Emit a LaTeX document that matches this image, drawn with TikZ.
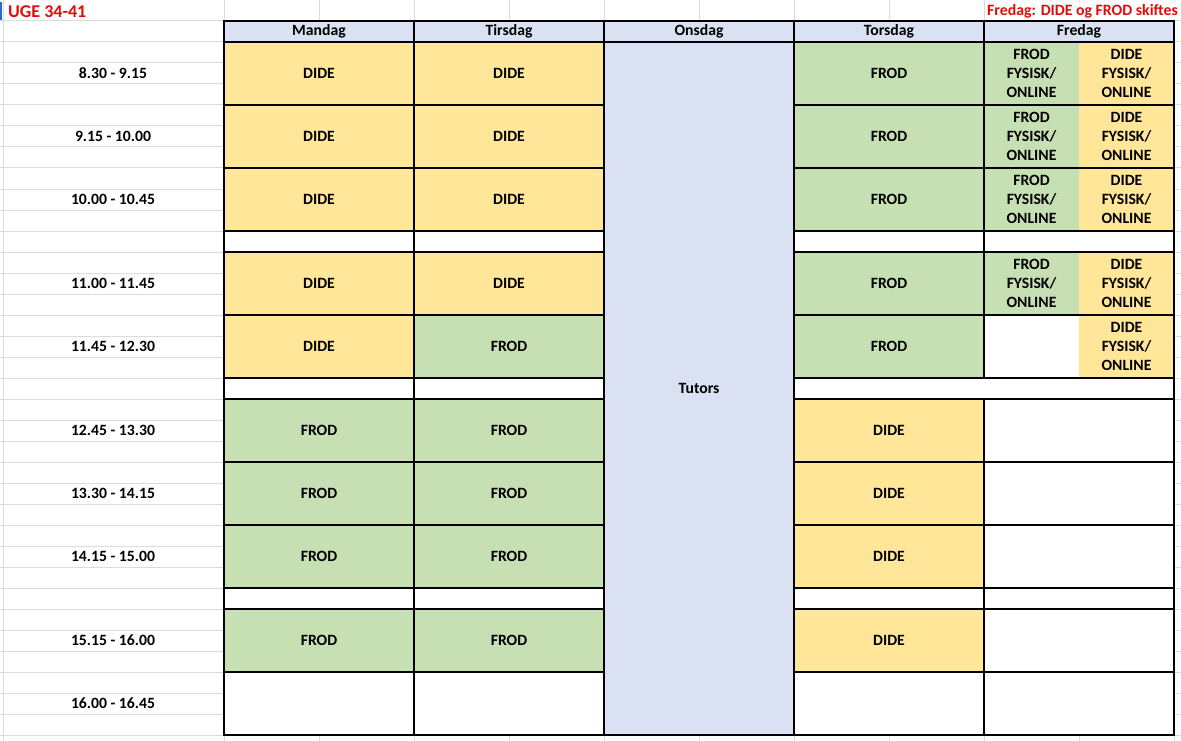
\documentclass[tikz,border=0pt]{standalone}
\usepackage{fontspec}
\setmainfont{Carlito}
\usetikzlibrary{positioning,backgrounds}

\definecolor{didecol}{RGB}{255,230,153}
\definecolor{frodcol}{RGB}{198,224,180}
\definecolor{daycol}{RGB}{217,225,242}
\definecolor{gridcol}{RGB}{220,220,220}
\definecolor{notecol}{RGB}{226,12,12}
\definecolor{cursorcol}{RGB}{40,110,200}

\begin{document}
\begin{tikzpicture}[x=1pt,y=-1pt,node distance=0pt]
  \tikzstyle{cell}=[rectangle,draw=black,line width=1.5pt,inner sep=0pt,outer sep=0pt,minimum width=190pt,minimum height=63pt,align=center,font=\fontsize{15.7}{19}\selectfont\bfseries]
  \tikzstyle{dide}=[cell,fill=didecol]
  \tikzstyle{frod}=[cell,fill=frodcol]
  \tikzstyle{empty}=[cell,fill=white]
  \tikzstyle{gap}=[empty,minimum height=21pt]
  \tikzstyle{day}=[cell,fill=daycol,minimum height=21pt]
  \tikzstyle{half}=[cell,draw=none,minimum width=95pt]
  \tikzstyle{frodhalf}=[half,fill=frodcol]
  \tikzstyle{didehalf}=[half,fill=didecol]
  \tikzstyle{nohalf}=[half,fill=white]
  \tikzstyle{frame}=[draw=black,line width=1.5pt]
  \tikzstyle{time}=[inner sep=0pt,font=\fontsize{15.7}{19}\selectfont\bfseries]
  \tikzstyle{note}=[inner sep=2pt,fill=white,text=notecol,font=\fontsize{15.8}{19}\selectfont\bfseries]

  \useasboundingbox (0,0) rectangle (1181,741);

  \begin{scope}
    % header row
    \node [day,anchor=north west] (mon) at (224,21) {Mandag};
    \node [day,right=of mon] (tue) {Tirsdag};
    \node [day,right=of tue] (wed) {Onsdag};
    \node [day,right=of wed] (thu) {Torsdag};
    \node [day,right=of thu] (fri) {Fredag};

    % Mandag
    \node [dide,below=of mon] (mon1) {DIDE};
    \node [dide,below=of mon1] (mon2) {DIDE};
    \node [dide,below=of mon2] (mon3) {DIDE};
    \node [gap,below=of mon3] (mongap1) {};
    \node [dide,below=of mongap1] (mon4) {DIDE};
    \node [dide,below=of mon4] (mon5) {DIDE};
    \node [gap,below=of mon5] (mongap2) {};
    \node [frod,below=of mongap2] (mon6) {FROD};
    \node [frod,below=of mon6] (mon7) {FROD};
    \node [frod,below=of mon7] (mon8) {FROD};
    \node [gap,below=of mon8] (mongap3) {};
    \node [frod,below=of mongap3] (mon9) {FROD};
    \node [empty,below=of mon9] (mon10) {};

    % Tirsdag
    \node [dide,below=of tue] (tue1) {DIDE};
    \node [dide,below=of tue1] (tue2) {DIDE};
    \node [dide,below=of tue2] (tue3) {DIDE};
    \node [gap,below=of tue3] (tuegap1) {};
    \node [dide,below=of tuegap1] (tue4) {DIDE};
    \node [frod,below=of tue4] (tue5) {FROD};
    \node [gap,below=of tue5] (tuegap2) {};
    \node [frod,below=of tuegap2] (tue6) {FROD};
    \node [frod,below=of tue6] (tue7) {FROD};
    \node [frod,below=of tue7] (tue8) {FROD};
    \node [gap,below=of tue8] (tuegap3) {};
    \node [frod,below=of tuegap3] (tue9) {FROD};
    \node [empty,below=of tue9] (tue10) {};

    % Onsdag
    \node [day,minimum height=693pt,below=of wed] (tutors) {Tutors};

    % Torsdag
    \node [frod,below=of thu] (thu1) {FROD};
    \node [frod,below=of thu1] (thu2) {FROD};
    \node [frod,below=of thu2] (thu3) {FROD};
    \node [gap,below=of thu3] (thugap1) {};
    \node [frod,below=of thugap1] (thu4) {FROD};
    \node [frod,below=of thu4] (thu5) {FROD};
    \node [gap,minimum width=380pt,anchor=north west] (thugap2) at (thu5.south west) {};
    \node [dide,below=21pt of thu5] (thu6) {DIDE};
    \node [dide,below=of thu6] (thu7) {DIDE};
    \node [dide,below=of thu7] (thu8) {DIDE};
    \node [gap,below=of thu8] (thugap3) {};
    \node [dide,below=of thugap3] (thu9) {DIDE};
    \node [empty,below=of thu9] (thu10) {};

    % Fredag
    \node [frodhalf,anchor=north west] (fri1a) at (fri.south west) {FROD\\FYSISK/\\ONLINE};
    \node [didehalf,right=of fri1a] (fri1b) {DIDE\\FYSISK/\\ONLINE};
    \node [frodhalf,below=of fri1a] (fri2a) {FROD\\FYSISK/\\ONLINE};
    \node [didehalf,right=of fri2a] (fri2b) {DIDE\\FYSISK/\\ONLINE};
    \node [frodhalf,below=of fri2a] (fri3a) {FROD\\FYSISK/\\ONLINE};
    \node [didehalf,right=of fri3a] (fri3b) {DIDE\\FYSISK/\\ONLINE};
    \node [gap,below=of fri3a.south east] (frigap1) {};
    \node [frodhalf,below=21pt of fri3a] (fri4a) {FROD\\FYSISK/\\ONLINE};
    \node [didehalf,right=of fri4a] (fri4b) {DIDE\\FYSISK/\\ONLINE};
    \node [nohalf,below=of fri4a] (fri5a) {};
    \node [didehalf,right=of fri5a] (fri5b) {DIDE\\FYSISK/\\ONLINE};
    \node [empty,below=21pt of fri5a.south east] (fri6) {};
    \node [empty,below=of fri6] (fri7) {};
    \node [empty,below=of fri7] (fri8) {};
    \node [gap,below=of fri8] (frigap3) {};
    \node [empty,below=of frigap3] (fri9) {};
    \node [empty,below=of fri9] (fri10) {};
  \end{scope}

  \begin{scope}
    % borders round the split Fredag cells
    \draw [frame] (fri1a.north west) rectangle (fri1b.south east);
    \draw [frame] (fri2a.north west) rectangle (fri2b.south east);
    \draw [frame] (fri3a.north west) rectangle (fri3b.south east);
    \draw [frame] (fri4a.north west) rectangle (fri4b.south east);
    \draw [frame] (fri5a.north west) rectangle (fri5b.south east);
  \end{scope}

  \begin{scope}
    % times
    \coordinate (colA) at (113,0);
    \node [time] (t1) at (colA |- mon1) {8.30 - 9.15};
    \node [time] (t2) at (colA |- mon2) {9.15 - 10.00};
    \node [time] (t3) at (colA |- mon3) {10.00 - 10.45};
    \node [time] (t4) at (colA |- mon4) {11.00 - 11.45};
    \node [time] (t5) at (colA |- mon5) {11.45 - 12.30};
    \node [time] (t6) at (colA |- mon6) {12.45 - 13.30};
    \node [time] (t7) at (colA |- mon7) {13.30 - 14.15};
    \node [time] (t8) at (colA |- mon8) {14.15 - 15.00};
    \node [time] (t9) at (colA |- mon9) {15.15 - 16.00};
    \node [time] (t10) at (colA |- mon10) {16.00 - 16.45};

    \node [note,font=\fontsize{18}{22}\selectfont\bfseries,anchor=west] (uge) at (6,12) {UGE 34-41};
    \node [note,anchor=east] (skift) at (1180,11) {Fredag: DIDE og FROD skiftes};
  \end{scope}

  \begin{pgfonlayer}{background}
    \fill [white] (0,0) rectangle (1181,741);
    \foreach \r in {0,...,35}
      \draw [gridcol,line width=1pt] (0,21*\r) -- (1181,21*\r);
    \foreach \c in {0,...,10}
      \draw [gridcol,line width=1pt] (224+95*\c,0) -- (224+95*\c,741);
    \draw [gridcol,line width=1pt] (3,0) -- (3,741);
    \draw [cursorcol,line width=1.5pt] (1,2) -- (1,20);
  \end{pgfonlayer}
\end{tikzpicture}
\end{document}
